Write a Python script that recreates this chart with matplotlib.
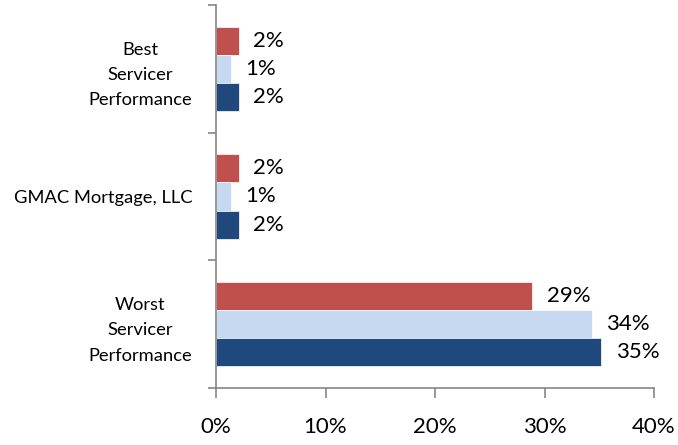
import numpy as np
from matplotlib import pyplot as plt

# data (top to bottom)
categories = ["Best\nServicer\nPerformance", "GMAC Mortgage, LLC", "Worst\nServicer\nPerformance"]
series_red = [0.021, 0.021, 0.289]
series_light = [0.014, 0.014, 0.343]
series_dark = [0.021, 0.021, 0.352]
label_red = ["2%", "2%", "29%"]
label_light = ["1%", "1%", "34%"]
label_dark = ["2%", "2%", "35%"]
xticks = [0, 0.1, 0.2, 0.3, 0.4]
xtick_labels = ["0%", "10%", "20%", "30%", "40%"]

plt.rcParams['font.family'] = ['Lato', 'DejaVu Sans']

fig = plt.figure(figsize=(6.78, 4.45), dpi=100)
ax = fig.add_axes([0.3186, 0.128, 0.646, 0.861])

y = np.arange(len(categories))
h = 0.22
cols = ["#C0504D", "#C6D9F1", "#1F497D"]
for off, vals, labs, c in zip([-h, 0, h], [series_red, series_light, series_dark],
                              [label_red, label_light, label_dark], cols):
    ax.barh(y + off, vals, height=h, color=c, edgecolor="white", linewidth=0.5)
    for yi, v, t in zip(y, vals, labs):
        ax.text(v + 0.013, yi + off, t, va="center", ha="left", fontsize=16)

ax.set_ylim(len(categories) - 0.5, -0.5)
ax.set_xlim(0, 0.4)
ax.set_yticks(y)
ax.set_yticklabels(categories, fontsize=13.2, linespacing=1.72)
for t in ax.get_yticklabels():
    t.set_multialignment("center")
ax.set_yticks(np.arange(-0.5, len(categories), 1.0), minor=True)
ax.tick_params(axis="y", which="major", length=0, pad=17)
ax.tick_params(axis="y", which="minor", length=6, color="#868686", width=1.2)
ax.set_xticks(xticks)
ax.set_xticklabels(xtick_labels, fontsize=16)
ax.tick_params(axis="x", length=7, color="#868686", width=1.2, pad=14)

for s in ["top", "right"]:
    ax.spines[s].set_visible(False)
for s in ["left", "bottom"]:
    ax.spines[s].set_color("#868686")
    ax.spines[s].set_linewidth(1.2)

plt.savefig("out.png", dpi=100)
